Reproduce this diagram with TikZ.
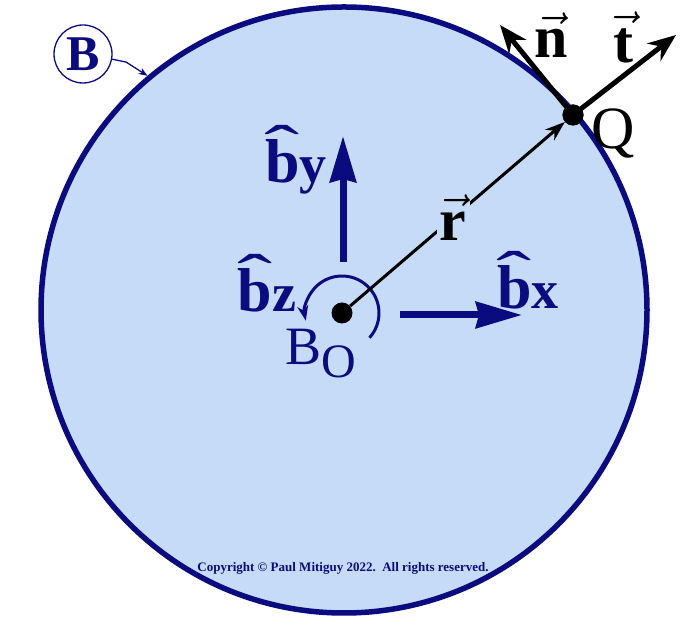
\RequirePackage{fix-cm}
\documentclass[tikz,border=0pt]{standalone}
\usepackage{graphicx}
\usepackage{fontspec}
\setmainfont{Liberation Serif}
\usetikzlibrary{arrows.meta,positioning}
\definecolor{bnavy}{HTML}{0B0B80}
\definecolor{bfill}{HTML}{C6DBF7}
\newcommand{\fsz}[1]{\fontsize{#1}{#1}\selectfont}
\newcommand{\hatb}{\makebox[0pt][l]{\makebox[0.556em]{%
  \raisebox{0.22em}{\scalebox{1.7}[1]{\mdseries\char"02C6}}}}b}
\newcommand{\unitb}[1]{\textbf{\hatb\fsz{54}#1}}
\newcommand{\vecbf}[1]{$\vec{\textbf{#1}}$}
\tikzset{
  body/.style   = {circle, draw=bnavy, fill=bfill, line width=5.5pt,
                   minimum size=606pt, inner sep=0pt},
  tagc/.style   = {circle, draw=bnavy, line width=1.3pt, minimum size=58pt,
                   inner sep=0pt, text=bnavy, font=\fsz{50}\bfseries},
  tagarr/.style = {draw=bnavy, line width=1.3pt, -{Stealth[length=9pt,width=7pt]}},
  pt/.style     = {circle, fill=black, minimum size=21pt, inner sep=0pt},
  basis/.style  = {draw=bnavy, line width=7pt,
                   -{Stealth[length=46pt,width=26pt,inset=3pt]}},
  spin/.style   = {draw=bnavy, line width=3pt, -{Stealth[length=15pt,width=11pt]}},
  tnarr/.style  = {draw=black, line width=5pt, -{Stealth[length=28pt,width=22pt]}},
  rarr/.style   = {draw=black, line width=3pt, -{Stealth[length=20pt,width=14pt]}},
  blbl/.style   = {text=bnavy, font=\fsz{62}, inner sep=1pt},
  vlbl/.style   = {text=black, font=\fsz{60}, inner sep=1pt},
}

\begin{document}
\begin{tikzpicture}[x=1pt,y=1pt]
  \useasboundingbox (0,0) rectangle (691,620);
  % body B
  \node[body] (B) at (344,310) {};
  \node[tagc] (Btag) at (83,566) {B};
  \draw[tagarr] (Btag.-10) -- ++(14,-3) -- (B.130);

  % basis vectors
  \coordinate (bys) at (343,358);
  \coordinate (bye) at (343,484);
  \coordinate (bxs) at (400,305);
  \coordinate (bxe) at (522,305);
  \draw[basis] (bys) -- (bye);
  \draw[basis] (bxs) -- (bxe);
  \node[blbl] (bylbl) at (296,460) {\unitb{y}};
  \node[blbl] (bxlbl) at (528,340) {\unitb{x}};
  \node[blbl] (bzlbl) at (267,337) {\unitb{z}};

  % origin and point Q
  \node[pt] (Bo) at (342,307) {};
  \node[pt] (Q) at (573,505) {};
  \draw[spin] (Bo.center) ++(-42:37) arc[start angle=-42, end angle=192, radius=37];
  \node[text=bnavy, font=\fsz{54}] (Bolbl) at (321,266) {B\raisebox{-13pt}{\fsz{48}O}};
  \draw[rarr] (Bo) -- (Q)
    node[vlbl, fill=bfill, pos=0.48, inner sep=3pt] (rlbl) {\vecbf{r}};
  \node[font=\fsz{60}] (Qlbl) at (613,486) {Q};

  % tangent and normal at Q
  \coordinate (ntip) at (500,595);
  \coordinate (ttip) at (676,585);
  \draw[tnarr] (Q.center) -- (ntip);
  \draw[tnarr] (Q.center) -- (ttip);
  \node[pt] at (Q) {};
  \node[vlbl] (nlbl) at (551,585) {\vecbf{n}};
  \node[vlbl] (tlbl) at (623,583) {\vecbf{t}};

  \node[text=bnavy, font=\fsz{13}\bfseries] (copy) at (343,52)
    {Copyright © Paul Mitiguy 2022.\ \ All rights reserved.};
\end{tikzpicture}
\end{document}
